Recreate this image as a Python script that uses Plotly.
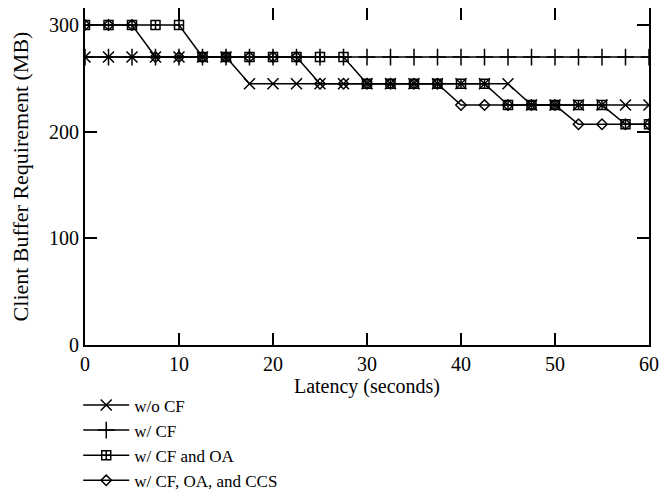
import plotly.graph_objects as go

latency = [0, 2.5, 5, 7.5, 10, 12.5, 15, 17.5, 20, 22.5, 25, 27.5, 30, 32.5, 35,
           37.5, 40, 42.5, 45, 47.5, 50, 52.5, 55, 57.5, 60]

wo_cf = [270, 270, 270, 270, 270, 270, 270, 245, 245, 245, 245, 245, 245, 245, 245,
         245, 245, 245, 245, 225, 225, 225, 225, 225, 225]
w_cf = [270] * 25
w_cf_oa = [300, 300, 300, 300, 300, 270, 270, 270, 270, 270, 270, 270, 245, 245, 245,
           245, 245, 245, 225, 225, 225, 225, 225, 207, 207]
w_cf_oa_ccs = [300, 300, 300, 270, 270, 270, 270, 270, 270, 270, 245, 245, 245, 245, 245,
               245, 225, 225, 225, 225, 225, 207, 207, 207, 207]

x_ticks = [0, 10, 20, 30, 40, 50, 60]
y_ticks = [0, 100, 200, 300]

series = [
    ("w/o CF", wo_cf, "x-thin-open", 11),
    ("w/ CF", w_cf, "cross-thin-open", 12),
    ("w/ CF and OA", w_cf_oa, "square-cross-open", 9),
    ("w/ CF, OA, and CCS", w_cf_oa_ccs, "diamond-open", 8),
]

FONT = "Liberation Serif, Times New Roman, serif"

fig = go.Figure()
for name, vals, sym, sz in series:
    fig.add_trace(go.Scatter(
        x=latency, y=vals, name=name, mode="lines+markers",
        line=dict(color="black", width=1.5),
        marker=dict(symbol=sym, size=sz, color="black",
                    line=dict(color="black", width=1.5)),
        cliponaxis=True,
    ))

axis_common = dict(
    showline=True, linecolor="black", linewidth=2, mirror="ticks",
    ticks="inside", ticklen=12, tickwidth=1.5, tickcolor="black",
    showgrid=False, zeroline=False,
    tickfont=dict(family=FONT, size=20, color="black"),
)

fig.update_xaxes(range=[0, 60], tickvals=x_ticks,
                 title=dict(text="Latency (seconds)", standoff=4,
                            font=dict(family=FONT, size=20, color="black")),
                 **axis_common)
fig.update_yaxes(range=[0, 316], tickvals=y_ticks,
                 title=dict(text="Client Buffer Requirement (MB)", standoff=15,
                            font=dict(family=FONT, size=22, color="black")),
                 **axis_common)

fig.update_layout(
    width=652, height=484,
    margin=dict(l=77, r=11, t=0, b=147, autoexpand=False),
    paper_bgcolor="white", plot_bgcolor="white",
    font=dict(family=FONT, color="black"),
    legend=dict(x=-0.012, y=-0.126, xanchor="left", yanchor="top",
                font=dict(family=FONT, size=17, color="black"),
                itemwidth=46, tracegroupgap=0, bgcolor="rgba(0,0,0,0)"),
)

fig.write_html("out.html")
